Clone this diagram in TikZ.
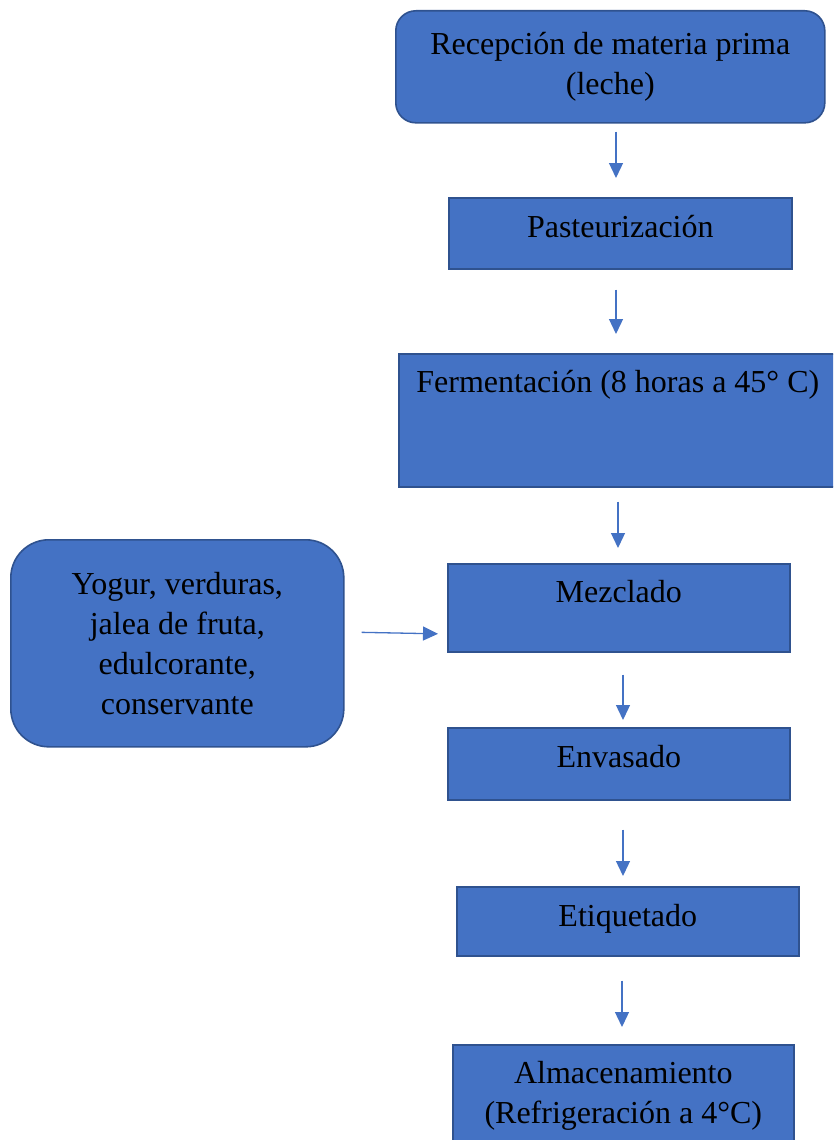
\documentclass[tikz,border=0pt]{standalone}
\usepackage{fontspec}
\setmainfont{Liberation Serif}
\usetikzlibrary{arrows.meta}

\definecolor{azulcaja}{HTML}{4472C4}
\definecolor{azulborde}{HTML}{2F528F}

\tikzset{
    caja/.style={draw=azulborde, fill=azulcaja, line width=1.6pt, rectangle,
        inner sep=0pt, anchor=north west, align=center,
        font=\fontsize{32}{40}\selectfont},
    flecha/.style={draw=azulcaja, line width=1.3pt,
        -{Triangle[width=14pt,length=15pt]}}
}

\begin{document}
\begin{tikzpicture}[x=1pt,y=-1pt]
    % Page
    \useasboundingbox (0,0) rectangle (833,1140);
    \clip (0,0) rectangle (833,1140);

    % Main column
    \node[caja, rounded corners=20pt, minimum width=429pt, minimum height=112pt] (recepcion) at (395,10)
        {Recepción de materia prima\\(leche)};
    \node[caja, minimum width=343pt, text height=40pt, text depth=31pt] (pasteur) at (448,197)
        {Pasteurización};
    \node[caja, minimum width=438pt, text height=39pt, text depth=94pt] (ferment) at (398,353)
        {Fermentación (8 horas a 45° C)};
    \node[caja, minimum width=342pt, text height=39pt, text depth=49pt] (mezcla) at (447,563)
        {Mezclado};
    \node[caja, minimum width=342pt, text height=40pt, text depth=32pt] (envase) at (447,727)
        {Envasado};
    \node[caja, minimum width=342pt, text height=40pt, text depth=29pt] (etiqueta) at (456,886)
        {Etiquetado};
    \node[caja, minimum width=341pt, minimum height=102pt] (almacen) at (452,1044)
        {Almacenamiento\\(Refrigeración a 4°C)};

    % Side input
    \node[caja, rounded corners=38pt, minimum width=333pt, minimum height=207pt] (insumos) at (10,539)
        {Yogur, verduras,\\jalea de fruta,\\edulcorante,\\conservante};

    % Arrow lines
    \coordinate (eje1) at (616,0);
    \coordinate (eje2) at (618,0);
    \coordinate (eje3) at (623,0);
    \coordinate (eje4) at (622,0);
    \coordinate (h1) at (0,632);
    \coordinate (h2) at (0,634);

    % Arrows
    \draw[flecha, shorten <=8pt, shorten >=19pt] (recepcion.south -| eje1) -- (pasteur.north -| eje1);
    \draw[flecha, shorten <=20pt, shorten >=19pt] (pasteur.south -| eje1) -- (ferment.north -| eje1);
    \draw[flecha, shorten <=14pt, shorten >=15pt] (ferment.south -| eje2) -- (mezcla.north -| eje2);
    \draw[flecha, shorten <=22pt, shorten >=7pt] (mezcla.south -| eje3) -- (envase.north -| eje3);
    \draw[flecha, shorten <=29pt, shorten >=10pt] (envase.south -| eje3) -- (etiqueta.north -| eje3);
    \draw[flecha, shorten <=24pt, shorten >=17pt] (etiqueta.south -| eje4) -- (almacen.north -| eje4);
    \draw[flecha, shorten <=17pt, shorten >=9pt] (insumos.east |- h1) -- (mezcla.west |- h2);
\end{tikzpicture}
\end{document}
